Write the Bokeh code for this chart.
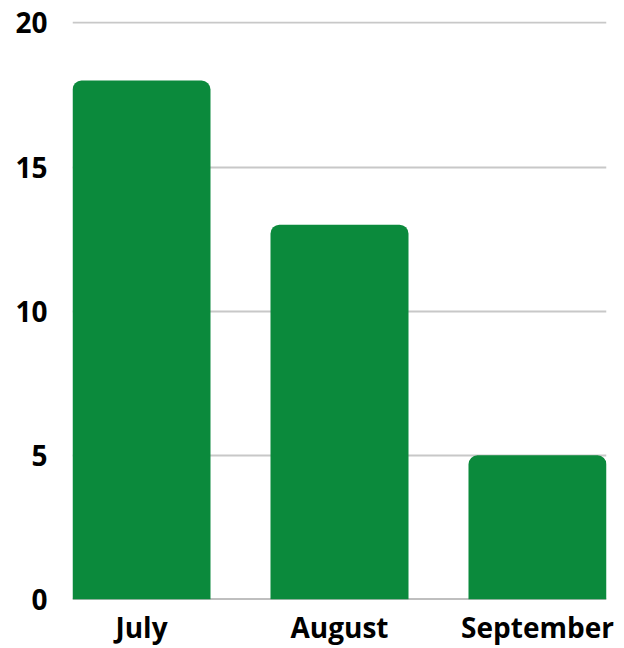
from bokeh.plotting import figure
from bokeh.models import Range1d, FixedTicker, ColumnDataSource
from bokeh.embed import file_html
from bokeh.resources import INLINE

months = ["July", "August", "September"]
values = [18, 13, 5]
y_ticks = [0, 5, 10, 15, 20]

BAR_W = 0.697
positions = list(range(len(months)))
src = ColumnDataSource(dict(x=positions, top=values))

p = figure(width=624, height=648, output_backend="svg", toolbar_location=None,
           x_range=Range1d(-BAR_W / 2, len(months) - 1 + BAR_W / 2),
           y_range=Range1d(0, 20.05))
p.min_border_left = 72
p.min_border_right = 18
p.min_border_top = 21
p.min_border_bottom = 48
p.outline_line_color = None
p.background_fill_color = "white"
p.border_fill_color = "white"

# baseline under bars
p.hspan(y=[0], line_color="#808080", line_width=2)

p.vbar(x="x", top="top", bottom=0, width=BAR_W, source=src,
       fill_color="#0b8a3c", line_color=None, border_radius=(9, 9, 0, 0))

p.xgrid.visible = False
p.ygrid.ticker = FixedTicker(ticks=y_ticks)
p.ygrid.grid_line_color = "#c8c8c8"
p.ygrid.grid_line_width = 2

font = "Open Sans"
p.yaxis.ticker = FixedTicker(ticks=y_ticks)
p.yaxis.axis_line_color = None
p.yaxis.major_tick_line_color = None
p.yaxis.minor_tick_line_color = None
p.yaxis.major_tick_out = 0
p.yaxis.major_label_standoff = 25
p.yaxis.major_label_text_font = font
p.yaxis.major_label_text_font_style = "bold"
p.yaxis.major_label_text_font_size = "28px"
p.yaxis.major_label_text_color = "black"

p.xaxis.ticker = FixedTicker(ticks=positions)
p.xaxis.major_label_overrides = {i: m for i, m in enumerate(months)}
p.xaxis.axis_line_color = None
p.xaxis.major_tick_line_color = None
p.xaxis.minor_tick_line_color = None
p.xaxis.major_tick_out = 0
p.xaxis.major_label_standoff = 8
p.xaxis.major_label_text_font = font
p.xaxis.major_label_text_font_style = "bold"
p.xaxis.major_label_text_font_size = "28px"
p.xaxis.major_label_text_color = "black"

open("out.html", "w").write(file_html(p, INLINE))
